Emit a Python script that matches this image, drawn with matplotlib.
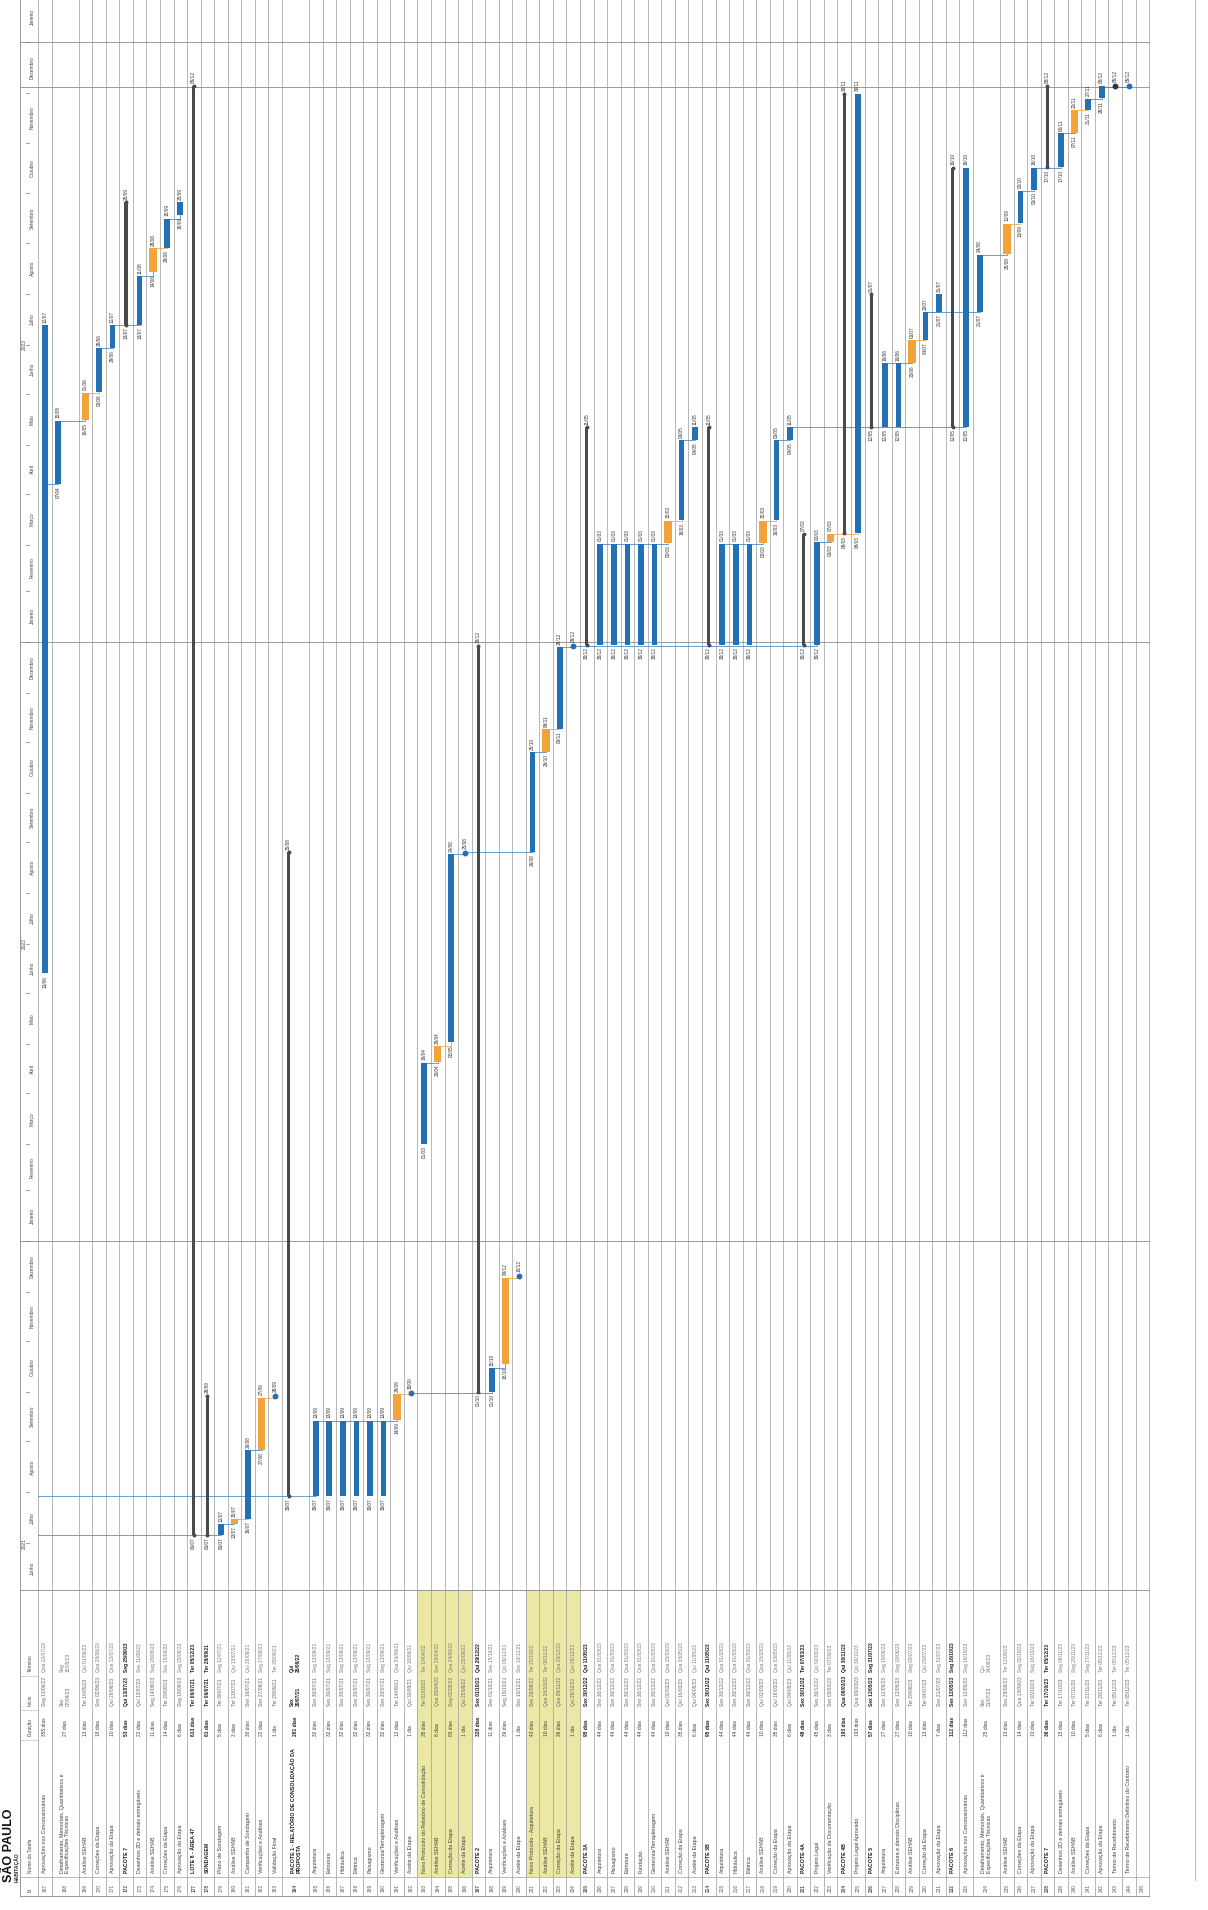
import datetime as dt
import numpy as np
import matplotlib
matplotlib.use("Agg")
import matplotlib.pyplot as plt
import matplotlib.dates as mdates
from matplotlib.patches import Rectangle

plt.rcParams['font.family'] = ['Liberation Sans', 'DejaVu Sans']

# ---- dados do cronograma (linhas 167..245) ----
ids = list(range(167, 246))

names = [
    "Aprovações nos Concessionárias",
    "Detalhamento, Memoriais, Quantitativos e\nEspecificações Técnicas",
    "Análise SEHAB", "Correções da Etapa", "Aprovação da Etapa",
    "PACOTE 7", "Desenhos 2D e demais entregáveis", "Análise SEHAB",
    "Correções da Etapa", "Aprovação da Etapa",
    "LOTE 8 - ÁREA 47", "SONDAGEM", "Plano de Sondagem", "Análise SEHAB",
    "Campanha de Sondagem", "Verificações e Análises", "Validação Final",
    "PACOTE 1 - RELATÓRIO DE CONSOLIDAÇÃO DA\nPROPOSTA",
    "Arquitetura", "Estrutura", "Hidráulica", "Elétrica", "Paisagismo",
    "Geotecnia/Terraplenagem", "Verificações e Análises", "Aceite da Etapa",
    "Novo Protocolo do Relatório de Consolidação", "Análise SEHAB",
    "Correção da Etapa", "Aceite da Etapa",
    "PACOTE 2", "Arquitetura", "Verificações e Análises", "Aceite da Etapa",
    "Novo Protocolo - Arquitetura", "Análise SEHAB", "Correção da Etapa",
    "Aceite da Etapa",
    "PACOTE 3A", "Arquitetura", "Paisagismo", "Estrutura", "Fundação",
    "Geotecnia/Terraplenagem", "Análise SEHAB", "Correção da Etapa",
    "Aceite da Etapa",
    "PACOTE 3B", "Arquitetura", "Hidráulica", "Elétrica", "Análise SEHAB",
    "Correção da Etapa", "Aprovação da Etapa",
    "PACOTE 4A", "Projeto Legal", "Verificação da Documentação",
    "PACOTE 4B", "Projeto Legal Aprovado",
    "PACOTE 5", "Arquitetura", "Estrutura e demais Disciplinas",
    "Análise SEHAB", "Correção da Etapa", "Aprovação da Etapa",
    "PACOTE 6", "Aprovações nos Concessionárias",
    "Detalhamento, Memoriais, Quantitativos e\nEspecificações Técnicas",
    "Análise SEHAB", "Correções da Etapa", "Aprovação da Etapa",
    "PACOTE 7", "Desenhos 2D e demais entregáveis", "Análise SEHAB",
    "Correções da Etapa", "Aprovação da Etapa",
    "Termo de Recebimento", "Termo de Recebimento Definitivo do Contrato",
    "",
]

duracao = [
    "355 dias", "27 dias", "13 dias", "18 dias", "10 dias",
    "53 dias", "22 dias", "11 dias", "14 dias", "6 dias",
    "613 dias", "61 dias", "5 dias", "3 dias", "30 dias", "22 dias", "1 dia",
    "281 dias", "32 dias", "32 dias", "32 dias", "32 dias", "32 dias",
    "32 dias", "12 dias", "1 dia",
    "35 dias", "8 dias", "83 dias", "1 dia",
    "328 dias", "11 dias", "39 dias", "1 dia",
    "43 dias", "10 dias", "36 dias", "1 dia",
    "95 dias", "44 dias", "44 dias", "44 dias", "44 dias", "44 dias",
    "10 dias", "35 dias", "6 dias",
    "95 dias", "44 dias", "44 dias", "44 dias", "10 dias", "35 dias", "6 dias",
    "48 dias", "45 dias", "3 dias",
    "193 dias", "193 dias",
    "57 dias", "27 dias", "27 dias", "10 dias", "13 dias", "7 dias",
    "112 dias", "112 dias", "25 dias", "13 dias", "14 dias", "10 dias",
    "36 dias", "15 dias", "10 dias", "5 dias", "6 dias",
    "1 dia", "1 dia", "",
]

inicio = [
    "Seg 13/06/22", "Sex 07/04/23", "Ter 16/05/23", "Sex 02/06/23", "Qui 29/06/23",
    "Qui 13/07/23", "Qui 13/07/23", "Seg 14/08/23", "Ter 29/08/23", "Seg 18/09/23",
    "Ter 06/07/21", "Ter 06/07/21", "Ter 06/07/21", "Ter 13/07/21", "Sex 16/07/21",
    "Sex 27/08/21", "Ter 28/09/21",
    "Sex 30/07/21", "Sex 30/07/21", "Sex 30/07/21", "Sex 30/07/21", "Sex 30/07/21",
    "Sex 30/07/21", "Sex 30/07/21", "Ter 14/09/21", "Qui 30/09/21",
    "Ter 01/03/22", "Qua 20/04/22", "Seg 02/05/22", "Qui 25/08/22",
    "Sex 01/10/21", "Sex 01/10/21", "Seg 18/10/21", "Sex 10/12/21",
    "Sex 26/08/22", "Qua 26/10/22", "Qua 09/11/22", "Qui 29/12/22",
    "Sex 30/12/22", "Sex 30/12/22", "Sex 30/12/22", "Sex 30/12/22", "Sex 30/12/22",
    "Sex 30/12/22", "Qui 02/03/23", "Qui 16/03/23", "Qui 04/05/23",
    "Sex 30/12/22", "Sex 30/12/22", "Sex 30/12/22", "Sex 30/12/22", "Qui 02/03/23",
    "Qui 16/03/23", "Qui 04/05/23",
    "Sex 30/12/22", "Sex 30/12/22", "Sex 03/03/23",
    "Qua 08/03/23", "Qua 08/03/23",
    "Sex 12/05/23", "Sex 12/05/23", "Sex 12/05/23", "Ter 20/06/23", "Ter 04/07/23",
    "Sex 21/07/23",
    "Sex 12/05/23", "Sex 12/05/23", "Sex 21/07/23", "Sex 25/08/23", "Qua 13/09/23",
    "Ter 03/10/23",
    "Ter 17/10/23", "Ter 17/10/23", "Ter 07/11/23", "Ter 21/11/23", "Ter 28/11/23",
    "Ter 05/12/23", "Ter 05/12/23", "",
]

termino = [
    "Qua 12/07/23", "Seg 15/05/23", "Qui 01/06/23", "Qua 28/06/23", "Qua 12/07/23",
    "Seg 25/09/23", "Sex 11/08/23", "Seg 28/08/23", "Sex 15/09/23", "Seg 25/09/23",
    "Ter 05/12/23", "Ter 28/09/21", "Seg 12/07/21", "Qui 15/07/21", "Qui 26/08/21",
    "Seg 27/09/21", "Ter 28/09/21",
    "Qui 25/08/22", "Seg 13/09/21", "Seg 13/09/21", "Seg 13/09/21", "Seg 13/09/21",
    "Seg 13/09/21", "Seg 13/09/21", "Qua 29/09/21", "Qui 30/09/21",
    "Ter 19/04/22", "Sex 29/04/22", "Qua 24/08/22", "Qui 25/08/22",
    "Qui 29/12/22", "Sex 15/10/21", "Qui 09/12/21", "Sex 10/12/21",
    "Ter 25/10/22", "Ter 08/11/22", "Qua 28/12/22", "Qui 29/12/22",
    "Qui 11/05/23", "Qua 01/03/23", "Qua 01/03/23", "Qua 01/03/23", "Qua 01/03/23",
    "Qua 01/03/23", "Qua 15/03/23", "Qua 03/05/23", "Qui 11/05/23",
    "Qui 11/05/23", "Qua 01/03/23", "Qua 01/03/23", "Qua 01/03/23", "Qua 15/03/23",
    "Qua 03/05/23", "Qui 11/05/23",
    "Ter 07/03/23", "Qui 02/03/23", "Ter 07/03/23",
    "Qui 30/11/23", "Qui 30/11/23",
    "Seg 31/07/23", "Seg 19/06/23", "Seg 19/06/23", "Seg 03/07/23", "Qui 20/07/23",
    "Seg 31/07/23",
    "Seg 16/10/23", "Seg 16/10/23", "Qui 24/08/23", "Ter 12/09/23", "Seg 02/10/23",
    "Seg 16/10/23",
    "Ter 05/12/23", "Seg 06/11/23", "Seg 20/11/23", "Seg 27/11/23", "Ter 05/12/23",
    "Ter 05/12/23", "Ter 05/12/23", "",
]

# T = tarefa, A = análise (laranja), S = resumo, M = marco, K = marco escuro
tipo = list(
    "TTATTSTATT"
    "SSTATAMS"
    "TTTTTTAM"
    "TATM"
    "STAM"
    "TATM"
    "STTTTTATT"
    "STTTATT"
    "STA"
    "ST"
    "STTATT"
    "STTATT"
    "STATT"
    "KM"
) + [""]

tall_rows = {168, 184, 234}
yellow_rows = {193, 194, 195, 196, 201, 202, 203, 204}

links = [
    (167, 168), (168, 169), (169, 170), (170, 171), (171, 173), (173, 174),
    (174, 175), (175, 176),
    (179, 180), (180, 181), (181, 182), (182, 183),
    (185, 191), (191, 192), (192, 198), (198, 199), (199, 200),
    (193, 194), (194, 195), (195, 196), (196, 201), (201, 202), (202, 203),
    (203, 204), (204, 222),
    (206, 211), (211, 212), (212, 213),
    (215, 218), (218, 219), (219, 220),
    (222, 223), (223, 225), (220, 233),
    (227, 229), (229, 230), (230, 231), (230, 234), (234, 235), (235, 236),
    (236, 237), (237, 239), (239, 240), (240, 241), (241, 242), (242, 244),
]

meses = ["Janeiro", "Fevereiro", "Março", "Abril", "Maio", "Junho", "Julho",
         "Agosto", "Setembro", "Outubro", "Novembro", "Dezembro"]

# ---- geometria da página (pixels da imagem) ----
W, H = 1208, 1910
TAB_TOP = 1590
X0, PU = 38.0, 13.55           # início da primeira linha, pixels por linha
T0, Y0, PPD = dt.datetime(2021, 7, 6), 1535.0, 1.642   # calibração do tempo


def ux(px):
    return (px - X0) / PU


def px_date(py):
    return T0 + dt.timedelta(days=(Y0 - py) / PPD)


def parse(s):
    return dt.datetime.strptime(s.split()[1], "%d/%m/%y")


BLUE = "#2371b5"
ORANGE = "#f2a33a"
DARK = "#4a4a4a"
GRID = "#a3a3a3"

units = np.array([2 if i in tall_rows else 1 for i in ids])
edges = np.concatenate([[0], np.cumsum(units)])
row_start = edges[:-1]
bar_x = row_start + 0.5
pos = {i: k for k, i in enumerate(ids)}

fig = plt.figure(figsize=(W / 100, H / 100), dpi=100)
ax = fig.add_axes([0, 1 - TAB_TOP / H, 1, TAB_TOP / H])
ax_t = fig.add_axes([0, 0, 1, 1 - TAB_TOP / H])
for a in (ax, ax_t):
    a.axis("off")
    a.set_xlim(ux(0), ux(W))
ax.set_ylim(mdates.date2num(px_date(TAB_TOP)), mdates.date2num(px_date(0)))
ax_t.set_ylim(H, TAB_TOP)

# ---- grade do gráfico ----
for e in edges:
    ax.axvline(e, color=GRID, lw=0.55, zorder=0)
ax.axvline(ux(20), color="#888888", lw=0.6, zorder=0)
ax.axvline(ux(1195), color="#b0b0b0", lw=0.6, zorder=0)
for d in [dt.datetime(2022, 1, 1), dt.datetime(2023, 1, 1),
          dt.datetime(2024, 1, 1), dt.datetime(2023, 12, 5)]:
    ax.plot([ux(20), edges[-1]], [mdates.date2num(d)] * 2,
            color="#8a8a8a", lw=0.6, zorder=0)

# ---- escala de tempo (meses / anos) ----
m0 = dt.datetime(2021, 6, 1)
while m0 < dt.datetime(2024, 2, 1):
    nxt = dt.datetime(m0.year + m0.month // 12, m0.month % 12 + 1, 1)
    mid = m0 + (nxt - m0) / 2
    ax.text(ux(32), mdates.date2num(mid), meses[m0.month - 1], rotation=90,
            ha="center", va="center", fontsize=3.5, color="#444444")
    ax.plot([ux(26), ux(29)], [mdates.date2num(nxt)] * 2, color="#777777", lw=0.5)
    m0 = nxt
for ano in (2021, 2022, 2023):
    ax.text(ux(24.5), mdates.date2num(dt.datetime(ano, 7, 1)), str(ano), rotation=90,
            ha="center", va="center", fontsize=3.5, color="#444444")

# ---- barras ----
starts, ends = {}, {}
for k, i in enumerate(ids):
    if not tipo[k]:
        continue
    s = mdates.date2num(parse(inicio[k]))
    e = mdates.date2num(parse(termino[k])) + 0.7
    starts[i], ends[i] = s, e
    x = bar_x[k]
    t = tipo[k]
    if t in "MK":
        c = BLUE if t == "M" else "#333333"
        ax.plot(x, s + 0.5, marker="o", ms=3.2, color=c, zorder=4)
        ax.text(x, s + 3, parse(inicio[k]).strftime("%d/%m"), rotation=90,
                ha="center", va="bottom", fontsize=3.4, color="#333333")
        continue
    if t == "S":
        ax.bar(x, e - s, bottom=s, width=0.24, color=DARK, zorder=3)
        ax.plot([x, x], [s, e], ls="none", marker="o", ms=1.8, color=DARK, zorder=3)
    else:
        ax.bar(x, e - s, bottom=s, width=0.55 if t == "A" else 0.42,
               color=ORANGE if t == "A" else BLUE, zorder=3)
    ax.text(x, s - 1.5, parse(inicio[k]).strftime("%d/%m"), rotation=90,
            ha="center", va="top", fontsize=3.4, color="#333333")
    ax.text(x, e + 1.5, parse(termino[k]).strftime("%d/%m"), rotation=90,
            ha="center", va="bottom", fontsize=3.4, color="#333333")

# ---- vínculos ----
for p, q in links:
    kp, kq = pos[p], pos[q]
    yh = min(ends[p], starts[q])
    c = ORANGE if tipo[kp] == "A" else "#3a86c8"
    ax.plot([bar_x[kp], bar_x[kq], bar_x[kq]], [yh, yh, starts[q]],
            color=c, lw=0.55, zorder=2)
for q in (179, 185):
    ax.plot([0, bar_x[pos[q]]], [starts[q]] * 2, color="#3a86c8", lw=0.55, zorder=2)

# ---- tabela ----
COL_ID, COL_NAME, COL_DUR, COL_INI = 1877, 1740, 1710, 1676
T_BOT = 1896
for k, i in enumerate(ids):
    if i in yellow_rows:
        ax_t.add_patch(Rectangle((row_start[k], TAB_TOP), units[k], COL_ID - TAB_TOP,
                                 facecolor="#ebe7a4", edgecolor="none", zorder=0))
for e in edges:
    ax_t.plot([e, e], [TAB_TOP, T_BOT], color=GRID, lw=0.55, zorder=1)
ax_t.plot([ux(20), ux(20)], [TAB_TOP, T_BOT], color="#888888", lw=0.6)
ax_t.plot([ux(1195), ux(1195)], [TAB_TOP, 1880], color="#b0b0b0", lw=0.6)
ax_t.plot([ux(20), edges[-1]], [TAB_TOP, TAB_TOP], color="#888888", lw=0.6)
ax_t.plot([ux(20), edges[-1]], [T_BOT, T_BOT], color="#888888", lw=0.6)
ax_t.plot([ux(20), edges[-1]], [COL_ID, COL_ID], color="#a0a0a0", lw=0.5)
for yc in (COL_NAME, COL_DUR, COL_INI):
    ax_t.plot([ux(20), 0], [yc, yc], color="#b5b5b5", lw=0.4)

hdr = dict(rotation=90, ha="center", va="bottom", fontsize=3.4, color="#444444")
ax_t.text(ux(30), T_BOT - 4, "Id", **hdr)
ax_t.text(ux(30), COL_ID - 4, "Nome da Tarefa", **hdr)
ax_t.text(ux(30), COL_NAME - 4, "Duração", **hdr)
ax_t.text(ux(30), COL_DUR - 4, "Início", **hdr)
ax_t.text(ux(30), COL_INI - 4, "Término", **hdr)

ax_t.text(ux(9), 1882, "SÃO PAULO", rotation=90, ha="center", va="bottom",
          fontsize=9, fontweight="bold", color="#111111")
ax_t.text(ux(17), 1882, "HABITAÇÃO", rotation=90, ha="center", va="bottom",
          fontsize=3.6, fontweight="bold", color="#222222")

for k, i in enumerate(ids):
    xc = row_start[k] + units[k] / 2
    bold = tipo[k] == "S"
    fw = "bold" if bold else "normal"
    tc = "#1a1a1a" if bold else "#3c3c3c"
    kw = dict(rotation=90, ha="center", va="bottom", fontweight=fw)
    ax_t.text(xc, T_BOT - 4, str(i), fontsize=3.4, color="#555555", **kw)
    if not names[k]:
        continue
    ax_t.text(xc, COL_ID - 4, names[k], fontsize=3.8, color=tc,
              multialignment="left", **kw)
    ini, ter = inicio[k], termino[k]
    if i in tall_rows:
        ini, ter = ini.replace(" ", "\n"), ter.replace(" ", "\n")
    ax_t.text(xc, COL_NAME - 4, duracao[k], fontsize=3.5, color=tc, **kw)
    ax_t.text(xc, COL_DUR - 4, ini, fontsize=3.5, color=tc if bold else "#666666",
              multialignment="left", **kw)
    ax_t.text(xc, COL_INI - 4, ter, fontsize=3.5, color=tc if bold else "#777777",
              multialignment="left", **kw)

fig.savefig("out.png", dpi=100, facecolor="white")
